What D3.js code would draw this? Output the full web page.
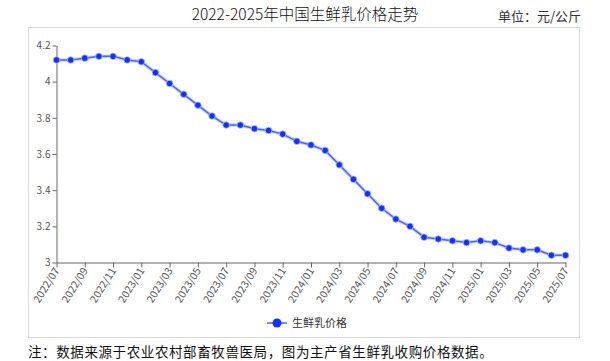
<!DOCTYPE html>
<html><head><meta charset="utf-8">
<script src="https://cdn.jsdelivr.net/npm/d3@7/dist/d3.min.js"></script>
<style>body{margin:0;background:#fff;} svg{display:block;}</style>
</head><body>
<svg id="c" width="610" height="361"></svg>
<script>
const months = ["2022/07","2022/08","2022/09","2022/10","2022/11","2022/12",
"2023/01","2023/02","2023/03","2023/04","2023/05","2023/06","2023/07","2023/08","2023/09","2023/10","2023/11","2023/12",
"2024/01","2024/02","2024/03","2024/04","2024/05","2024/06","2024/07","2024/08","2024/09","2024/10","2024/11","2024/12",
"2025/01","2025/02","2025/03","2025/04","2025/05","2025/06","2025/07"];
const prices = [4.12,4.12,4.13,4.14,4.14,4.12,
4.11,4.05,3.99,3.93,3.87,3.81,3.76,3.76,3.74,3.73,3.71,3.67,
3.65,3.62,3.54,3.46,3.38,3.30,3.24,3.20,3.14,3.13,3.12,3.11,
3.12,3.11,3.08,3.07,3.07,3.04,3.04];
const yTicks = [3,3.2,3.4,3.6,3.8,4,4.2];
const xTickLabels = months.filter((m,i)=>i%2===0);
const title = "2022-2025年中国生鲜乳价格走势";
const unit = "单位：元/公斤";
const seriesName = "生鲜乳价格";
const note = "注：数据来源于农业农村部畜牧兽医局，图为主产省生鲜乳收购价格数据。";

const svg = d3.select("#c");
const font = "'Noto Sans CJK SC', 'Noto Sans', sans-serif";

svg.append("rect").attr("x",28.5).attr("y",27.5).attr("width",551).attr("height",310)
  .attr("fill","#fff").attr("stroke","#d9d9d9");

svg.append("text").attr("x",305).attr("y",20).attr("text-anchor","middle")
  .attr("font-family",font).attr("font-size",15.5).attr("font-weight",300).attr("fill","#111").text(title);
svg.append("text").attr("x",581).attr("y",21).attr("text-anchor","end")
  .attr("font-family",font).attr("font-size",13).attr("fill","#333").text(unit);

const x = d3.scalePoint().domain(months).range([56.5,565.5]);
const y = d3.scaleLinear().domain([3,4.2]).range([262.5,45.5]);

const gy = svg.append("g").attr("transform","translate(56.5,0)")
  .call(d3.axisLeft(y).tickValues(yTicks).tickFormat(d3.format("~g")).tickSize(4).tickSizeOuter(0));
gy.select(".domain").attr("stroke","#666");
gy.selectAll(".tick line").attr("stroke","#666");
gy.selectAll("text").attr("font-family",font).attr("font-size",10).attr("fill","#555").attr("x",-6);

const gx = svg.append("g").attr("transform","translate(0,262.5)")
  .call(d3.axisBottom(x).tickValues(xTickLabels).tickSize(5).tickSizeOuter(0));
gx.select(".domain").attr("stroke","#666");
gx.selectAll(".tick line").attr("stroke","#666");
gx.selectAll("text").attr("font-family",font).attr("font-size",10.5).attr("fill","#555")
  .attr("text-anchor","end").attr("dy",0).attr("y",0)
  .attr("transform","translate(3,8) rotate(-58)");

const line = d3.line().x((d,i)=>x(months[i])).y(d=>y(d));
svg.append("path").datum(prices).attr("d",line).attr("fill","none")
  .attr("stroke","#a9b8ff").attr("stroke-width",3.5).attr("opacity",0.6);
svg.append("path").datum(prices).attr("d",line).attr("fill","none")
  .attr("stroke","#4a63ff").attr("stroke-width",1.5);
svg.append("g").selectAll("circle").data(prices).join("circle")
  .attr("cx",(d,i)=>x(months[i])).attr("cy",d=>y(d)).attr("r",3.3)
  .attr("fill","#1230ff").attr("stroke","#b8c4ff").attr("stroke-width",0.8);

// legend
const lg = svg.append("g");
lg.append("line").attr("x1",267).attr("x2",287).attr("y1",323).attr("y2",323)
  .attr("stroke","#4a63ff").attr("stroke-width",1.5);
lg.append("circle").attr("cx",277).attr("cy",323).attr("r",4.5).attr("fill","#1230ff");
lg.append("text").attr("x",292).attr("y",327).attr("font-family",font).attr("font-size",11)
  .attr("fill","#333").text(seriesName);

svg.append("text").attr("x",28).attr("y",357).attr("font-family",font).attr("font-size",13.5)
  .attr("letter-spacing",0.6).attr("fill","#111").text(note);
</script>
</body></html>
